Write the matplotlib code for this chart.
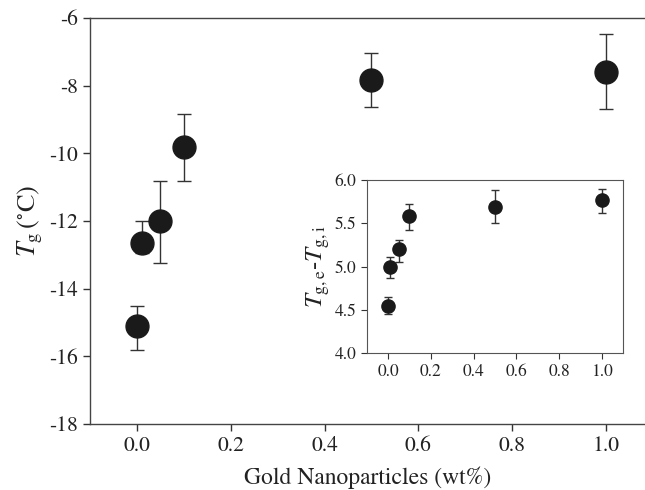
import matplotlib
matplotlib.use("Agg")
import matplotlib.pyplot as plt

plt.rcParams['font.family'] = ['STIXGeneral', 'DejaVu Serif']
plt.rcParams['mathtext.fontset'] = 'stix'

# main data: Tg vs gold content
gold = [0.0, 0.01, 0.05, 0.1, 0.5, 1.0]
tg = [-15.1, -12.64, -12.0, -9.81, -7.82, -7.6]
tg_err_lo = [0.71, 0.30, 1.23, 1.01, 0.81, 1.09]
tg_err_hi = [0.60, 0.64, 1.18, 0.96, 0.78, 1.12]

# inset data: Tg,e - Tg,i
dtg = [4.55, 5.0, 5.2, 5.59, 5.69, 5.77]
dtg_err_lo = [0.10, 0.13, 0.15, 0.17, 0.19, 0.15]
dtg_err_hi = [0.10, 0.11, 0.11, 0.13, 0.19, 0.13]

main_xticks = [0.0, 0.2, 0.4, 0.6, 0.8, 1.0]
main_yticks = [-18, -16, -14, -12, -10, -8, -6]
inset_xticks = [0.0, 0.2, 0.4, 0.6, 0.8, 1.0]
inset_yticks = [4.0, 4.5, 5.0, 5.5, 6.0]

col = '#1a1a1a'

fig = plt.figure(figsize=(6.45, 4.9), dpi=100)
ax = fig.add_axes([0.1395, 0.1347, 0.8605, 0.8286])
ax.errorbar(gold, tg, yerr=[tg_err_lo, tg_err_hi], fmt='o', color=col,
            ms=16.5, ecolor='#333333', elinewidth=1.0, capsize=5, capthick=1.0)
ax.set_xlim(-0.1, 1.083)
ax.set_ylim(-18, -6)
ax.set_xticks(main_xticks)
ax.set_xticklabels(['%.1f' % v for v in main_xticks])
ax.set_yticks(main_yticks)
ax.set_yticklabels([str(v) for v in main_yticks])
ax.tick_params(direction='out', length=5, width=1.0, labelsize=15.5, colors='#333333', labelcolor='#222222')
ax.spines['right'].set_visible(False)
for s in ['left', 'bottom', 'top']:
    ax.spines[s].set_color('#444444')
    ax.spines[s].set_linewidth(1.0)
ax.set_xlabel('Gold Nanoparticles (wt%)', fontsize=17, color='#222222', labelpad=8)
ax.set_ylabel(r'$T_{\rm g}\,(^{\circ}\mathrm{C})$', fontsize=19, color='#222222', labelpad=3)

# inset
axi = fig.add_axes([0.5685, 0.279, 0.398, 0.3537])
axi.errorbar(gold, dtg, yerr=[dtg_err_lo, dtg_err_hi], fmt='o', color=col,
             ms=9.5, ecolor='#333333', elinewidth=1.0, capsize=3, capthick=1.0)
axi.set_xlim(-0.1, 1.1)
axi.set_ylim(4.0, 6.0)
axi.set_xticks(inset_xticks)
axi.set_xticklabels(['%.1f' % v for v in inset_xticks])
axi.set_yticks(inset_yticks)
axi.set_yticklabels(['%.1f' % v for v in inset_yticks])
axi.tick_params(direction='out', length=4, width=0.8, labelsize=12.5, colors='#333333', labelcolor='#222222')
for s in axi.spines.values():
    s.set_color('#555555')
    s.set_linewidth(0.8)
axi.set_ylabel(r'$T_{\rm g,e}$-$T_{\rm g,i}$', fontsize=18, color='#222222', labelpad=2)

fig.savefig('out.png', dpi=100)
